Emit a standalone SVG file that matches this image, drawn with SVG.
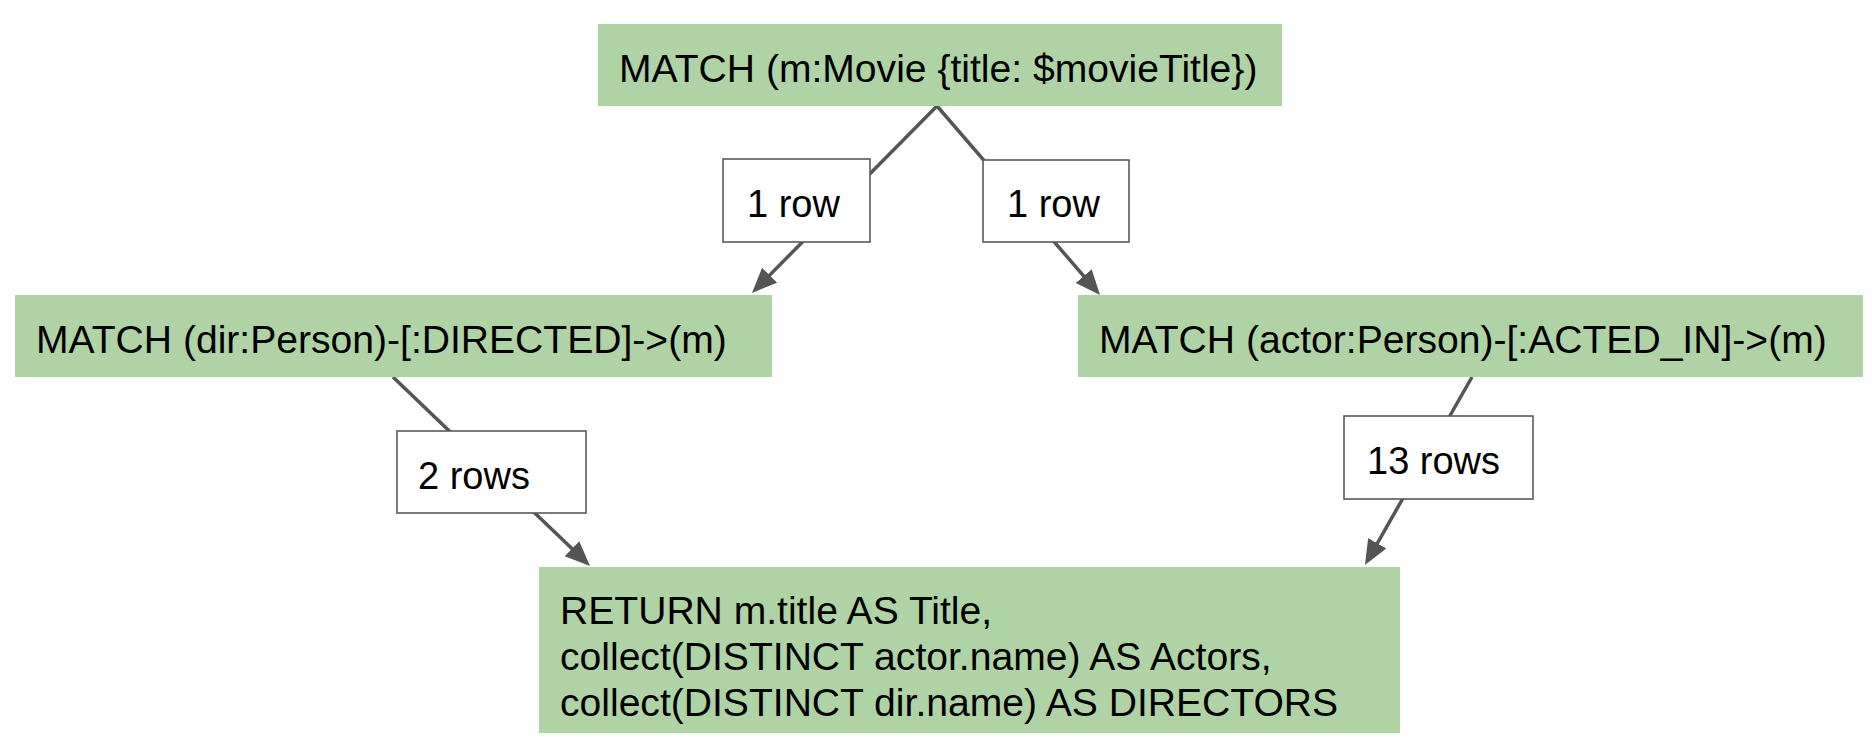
<svg xmlns="http://www.w3.org/2000/svg" width="1872" height="750" viewBox="0 0 1872 750">
<style>
.node{fill:#b0d3a5;}
.ntext{font-family:"Liberation Sans",Arial,sans-serif;font-size:39.1px;fill:#000;}
.lbl{fill:#fff;stroke:#595959;stroke-width:1.6;}
.ltext{font-family:"Liberation Sans",Arial,sans-serif;font-size:38px;fill:#000;}
.edge{fill:none;stroke:#555555;stroke-width:3.5;marker-end:url(#arrow);}
</style>
<defs>
<marker id="arrow" markerUnits="userSpaceOnUse" markerWidth="26" markerHeight="22" refX="15" refY="10.5" orient="auto">
<path d="M0,0 L25,10.5 L0,21 z" fill="#555555"/>
</marker>
</defs>
<rect width="1872" height="750" fill="#fff"/>
<g id="connectors">
<path class="edge" d="M937,106 L759,285.9"/>
<path class="edge" d="M937,106 L1093.5,287.4"/>
<path class="edge" d="M393,377 L582.8,559.1"/>
<path class="edge" d="M1472,377 L1369.9,556.3"/>
<g id="edge-labels">
<g id="label-1row-left"><rect class="lbl" x="723" y="159" width="147" height="83"/><text class="ltext" x="747" y="217">1 row</text></g>
<g id="label-1row-right"><rect class="lbl" x="983" y="160" width="146" height="82"/><text class="ltext" x="1007" y="217">1 row</text></g>
<g id="label-2rows"><rect class="lbl" x="397" y="431" width="189" height="82"/><text class="ltext" x="418" y="489">2 rows</text></g>
<g id="label-13rows"><rect class="lbl" x="1344" y="416" width="189" height="83"/><text class="ltext" x="1367" y="474">13 rows</text></g>
</g>
</g>
<g id="node-movie"><rect class="node" x="598" y="24" width="684" height="82"/><text class="ntext" x="619" y="82">MATCH (m:Movie {title: $movieTitle})</text></g>
<g id="node-directed"><rect class="node" x="15" y="295" width="757" height="82"/><text class="ntext" x="36" y="353">MATCH (dir:Person)-[:DIRECTED]-&gt;(m)</text></g>
<g id="node-acted"><rect class="node" x="1078" y="295" width="785" height="82"/><text class="ntext" x="1099" y="353">MATCH (actor:Person)-[:ACTED_IN]-&gt;(m)</text></g>
<g id="node-return"><rect class="node" x="539" y="567" width="861" height="166"/><text class="ntext" x="560" y="624">RETURN m.title AS Title,</text><text class="ntext" x="560" y="670">collect(DISTINCT actor.name) AS Actors,</text><text class="ntext" x="560" y="716">collect(DISTINCT dir.name) AS DIRECTORS</text></g>
</svg>
